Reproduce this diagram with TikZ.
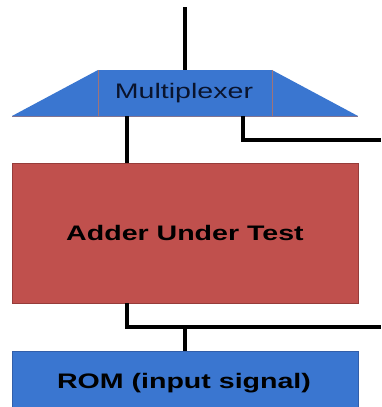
\documentclass[tikz,border=0pt]{standalone}
\usepackage{fontspec}
\setmainfont{Liberation Sans}
\definecolor{boxblue}{RGB}{58,118,208}
\definecolor{boxred}{RGB}{192,80,77}
\definecolor{rededge}{RGB}{150,60,58}
\definecolor{blueedge}{RGB}{50,95,170}
\definecolor{muxedge}{RGB}{160,115,120}
\definecolor{navytext}{RGB}{10,20,45}
\tikzset{
  wire/.style={line width=3.8pt, black},
  lbl/.style={anchor=base, inner sep=0pt, font=\fontsize{21}{25}\selectfont},
}
\newcommand{\wide}[1]{\scalebox{1.36}[1]{#1}}
\begin{document}
\begin{tikzpicture}[x=1pt,y=-1pt]
\useasboundingbox (0,0) rectangle (381,407);
% multiplexer
\fill[boxblue] (98,70) -- (272,70) -- (358,116) -- (12,116) -- cycle;
\node[fill=boxblue, minimum width=174, minimum height=46, inner sep=0pt] (mux) at (185,93) {};
\draw[muxedge, line width=0.6pt] (mux.north west) -- (mux.south west);
\draw[muxedge, line width=0.6pt] (mux.north east) -- (mux.south east);
\draw[muxedge!70!boxblue, line width=0.5pt] (12,116) -- (358,116);
\node[lbl, text=navytext] (muxtext) at (184,98) {\wide{Multiplexer}};
% adder
\node[draw=rededge, line width=0.7pt, fill=boxred, minimum width=346, minimum height=140, inner sep=0pt] (adder) at (185,233) {};
\node[lbl, text=black] (addertext) at (185,240) {\wide{\bfseries Adder Under Test}};
% rom
\node[draw=blueedge, line width=0.7pt, fill=boxblue, minimum width=346, minimum height=80, inner sep=0pt] (rom) at (185,391) {};
\node[lbl, text=black] (romtext) at (184,388) {\wide{\bfseries ROM (input signal)}};
% wires
\coordinate (topin) at (185,7);
\coordinate (outA) at (381,140);
\coordinate (outB) at (381,327);
\coordinate (tee) at (185,327);
\draw[wire] (topin) -- (mux.north);
\draw[wire] (mux.south -| 127,0) -- (adder.north -| 127,0);
\draw[wire] (mux.south -| 243,0) |- (outA);
\draw[wire] (adder.south -| 127,0) |- (outB);
\draw[wire] (tee) -- (rom.north);
\end{tikzpicture}
\end{document}
